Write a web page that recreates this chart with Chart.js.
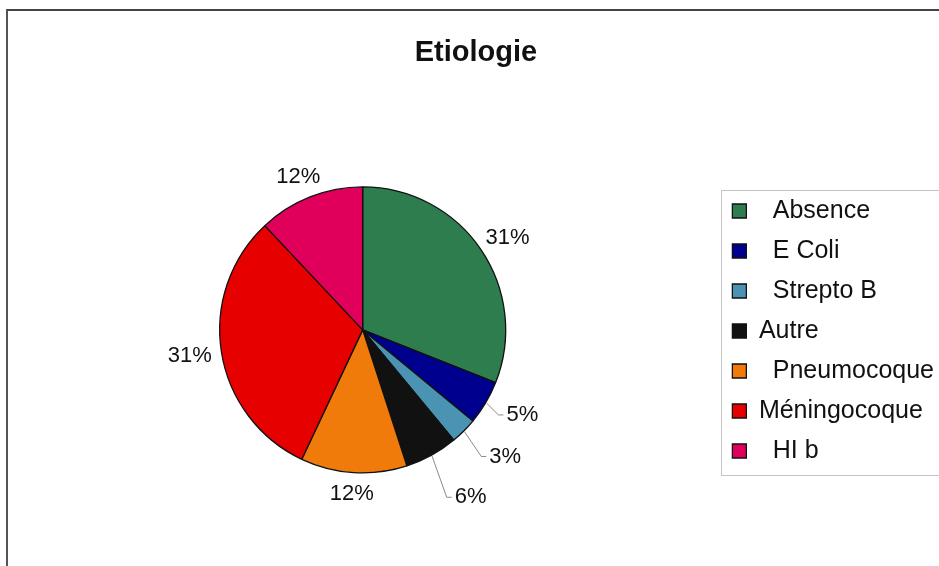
<!DOCTYPE html>
<html lang="fr">
<head>
  <meta charset="UTF-8" />
  <title>Etiologie</title>
  <script src="https://cdn.jsdelivr.net/npm/chart.js"></script>
  <style>
    html, body { margin:0; padding:0; background:#fff; overflow:hidden; }
    .frame { position:absolute; left:6px; top:9px; width:946px; height:600px;
             border-top:2px solid #444; border-left:2px solid #555; overflow:hidden; }
    .box { position:absolute; left:0; top:0; width:944px; height:560px; }
  </style>
</head>
<body>
  <div class="frame">
    <div class="box"><canvas id="chartEtio"></canvas></div>
  </div>
  <script>
    // category names keep the leading spaces they had in the sheet
    const categories = ['  Absence', '  E Coli', '  Strepto B', 'Autre', '  Pneumocoque', 'Méningocoque', '  HI b'];
    const percentages = [31, 5, 3, 6, 12, 31, 12];
    const sliceColors = ['#2e7d4e', '#00008f', '#4a93b3', '#111111', '#f07a0a', '#e60000', '#e0005c'];
    const FONT = "'Liberation Sans', Arial, sans-serif";

    // % labels outside the pie, thin slices get a leader line
    const outsideLabels = {
      id: 'outsideLabels',
      afterDatasetsDraw(chart, args, opts) {
        const ctx = chart.ctx;
        const meta = chart.getDatasetMeta(0);
        let k = 0;
        ctx.save();
        ctx.font = opts.size + 'px ' + FONT;
        ctx.fillStyle = '#111';
        ctx.textBaseline = 'middle';
        meta.data.forEach((arc, i) => {
          const p = arc.getProps(['x', 'y', 'startAngle', 'endAngle', 'outerRadius']);
          const a = (p.startAngle + p.endAngle) / 2;
          const cos = Math.cos(a), sin = Math.sin(a);
          const txt = percentages[i] + '%';
          const w = ctx.measureText(txt).width;
          if (percentages[i] < opts.leaderBelow) {
            const d = p.outerRadius + opts.leaderDist + k * opts.leaderStep;
            k++;
            const ex = p.x + cos * (p.outerRadius + 1);
            const ey = p.y + sin * (p.outerRadius + 1);
            const lx = p.x + cos * d;
            const ly = p.y + sin * d;
            ctx.strokeStyle = '#8a8a8a';
            ctx.lineWidth = 1;
            ctx.beginPath();
            ctx.moveTo(ex, ey);
            ctx.lineTo(lx - 8, ly);
            ctx.lineTo(lx - 3, ly);
            ctx.stroke();
            ctx.textAlign = 'left';
            ctx.fillText(txt, lx, ly);
          } else {
            const ax = p.x + cos * (p.outerRadius + opts.offset);
            const ay = p.y + sin * (p.outerRadius + opts.offset);
            ctx.textAlign = 'center';
            ctx.fillText(txt, ax + cos * w / 2, ay + sin * opts.size / 2);
          }
        });
        ctx.restore();
      }
    };

    // light grey frame round the legend
    const legendFrame = {
      id: 'legendFrame',
      afterDraw(chart) {
        const lg = chart.legend;
        if (!lg || !lg.legendHitBoxes.length) return;
        const hb = lg.legendHitBoxes;
        const first = hb[0], last = hb[hb.length - 1];
        const ctx = chart.ctx;
        ctx.save();
        ctx.strokeStyle = '#c4c4c4';
        ctx.lineWidth = 1;
        const top = Math.round(first.top - 9) + 0.5;
        const bottom = Math.round(last.top + last.height + 11) + 0.5;
        ctx.strokeRect(Math.round(first.left - 11) + 0.5, top, 400, bottom - top);
        ctx.restore();
      }
    };

    new Chart(document.getElementById('chartEtio'), {
      type: 'pie',
      data: {
        labels: categories,
        datasets: [{
          data: percentages,
          backgroundColor: sliceColors,
          borderColor: '#111',
          borderWidth: 1.3,
          radius: 143
        }]
      },
      options: {
        responsive: true,
        maintainAspectRatio: false,
        animation: false,
        layout: { padding: { left: 0, right: 8, top: 0, bottom: 40 } },
        plugins: {
          title: {
            display: true,
            text: 'Etiologie',
            color: '#111',
            font: { family: FONT, size: 29, weight: 'bold' },
            padding: { top: 25, bottom: 58 }
          },
          legend: {
            position: 'right',
            title: { display: true, text: ' ', font: { size: 10 }, padding: { top: 108, bottom: 0 } },
            labels: {
              color: '#111',
              font: { family: FONT, size: 25 },
              boxWidth: 14,
              boxHeight: 14,
              padding: 15
            }
          },
          tooltip: { enabled: false },
          outsideLabels: { size: 22, offset: 10, leaderBelow: 8, leaderDist: 24, leaderStep: 12 }
        }
      },
      plugins: [outsideLabels, legendFrame]
    });
  </script>
</body>
</html>
